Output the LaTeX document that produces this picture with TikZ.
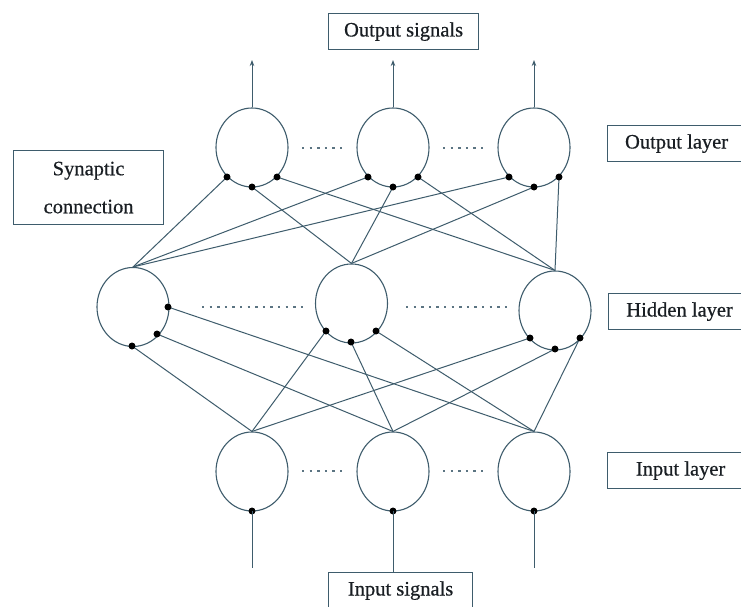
\documentclass[tikz,border=0pt]{standalone}
\usepackage{fontspec}
\setmainfont{Liberation Serif}
\newfontfamily\lblfont[FakeBold=0.5]{Liberation Serif}
\usetikzlibrary{shapes.geometric,arrows.meta}
\definecolor{lc}{RGB}{62,92,108}
\definecolor{tc}{RGB}{25,30,35}
\tikzset{
  neuron/.style={ellipse, draw=lc, line width=1.1pt, minimum width=72pt, minimum height=79pt, inner sep=0pt},
  syn/.style={circle, fill=black, minimum size=6.5pt, inner sep=0pt},
  conn/.style={draw=lc, line width=1.0pt},
  lbl/.style={draw=lc, line width=1.2pt, text=tc, font=\lblfont\fontsize{20.5}{38}\selectfont, inner sep=0pt, anchor=north west, align=center},
  dotsline/.style={draw=lc!85, line width=2.4pt, dash pattern=on 2.4pt off 5.2pt},
  sig/.style={conn, -{Stealth[length=6pt,width=4.5pt]}}
}
\begin{document}
\begin{tikzpicture}[x=1pt,y=-1pt]
\useasboundingbox (0,0) rectangle (741,607);
\clip (0,0) rectangle (741,607);
\fill[white] (0,0) rectangle (741,607);
% neurons
\node[neuron] (o1) at (252,147.5) {};
\node[neuron] (o2) at (393,147.5) {};
\node[neuron] (o3) at (534,147.5) {};
\node[neuron] (h1) at (133,307) {};
\node[neuron] (h2) at (351.5,303.5) {};
\node[neuron] (h3) at (555,310.5) {};
\node[neuron] (i1) at (252,471.5) {};
\node[neuron] (i2) at (393,471.5) {};
\node[neuron] (i3) at (534,471.5) {};
% synapse dots output layer
\node[syn] (o1a) at (227,177) {};
\node[syn] (o1b) at (252,187) {};
\node[syn] (o1c) at (277,177) {};
\node[syn] (o2a) at (368,177) {};
\node[syn] (o2b) at (393,187) {};
\node[syn] (o2c) at (418,177) {};
\node[syn] (o3a) at (509,177) {};
\node[syn] (o3b) at (534,187) {};
\node[syn] (o3c) at (559,177) {};
% synapse dots hidden layer
\node[syn] (h1a) at (132,346) {};
\node[syn] (h1b) at (157,334) {};
\node[syn] (h1c) at (168,307) {};
\node[syn] (h2a) at (326,331) {};
\node[syn] (h2b) at (351,342) {};
\node[syn] (h2c) at (376,331) {};
\node[syn] (h3a) at (530,338) {};
\node[syn] (h3b) at (555,349) {};
\node[syn] (h3c) at (580,338) {};
% input dots
\node[syn] (i1s) at (252,511) {};
\node[syn] (i2s) at (393,511) {};
\node[syn] (i3s) at (534,511) {};
% hidden -> output connections
\foreach \o in {1,2,3}{
  \draw[conn] (o\o a.center) -- (h1.north);
  \draw[conn] (o\o b.center) -- (h2.north);
  \draw[conn] (o\o c.center) -- (h3.north);
}
% input -> hidden connections
\foreach \h in {1,2,3}{
  \draw[conn] (h\h a.center) -- (i1.north);
  \draw[conn] (h\h b.center) -- (i2.north);
  \draw[conn] (h\h c.center) -- (i3.north);
}
% redraw dots on top
\foreach \n in {o1a,o1b,o1c,o2a,o2b,o2c,o3a,o3b,o3c,h1a,h1b,h1c,h2a,h2b,h2c,h3a,h3b,h3c,i1s,i2s,i3s}{
  \fill (\n) circle (3.4pt);
}
% output arrows
\coordinate (t1) at (252,60);
\coordinate (t2) at (393,60);
\coordinate (t3) at (534,60);
\draw[sig] (o1.north) -- (t1);
\draw[sig] (o2.north) -- (t2);
\draw[sig] (o3.north) -- (t3);
% input lines
\coordinate (b1) at (252,568);
\coordinate (b3) at (534,568);
\draw[conn] (i1s.center) -- (b1);
\draw[conn] (i3s.center) -- (b3);
% dotted ellipses
\draw[dotsline] (302,148) -- (347,148);
\draw[dotsline] (443,148) -- (488,148);
\draw[dotsline] (202,307) -- (303,307);
\draw[dotsline] (406,307) -- (507,307);
\draw[dotsline] (302,471) -- (347,471);
\draw[dotsline] (443,471) -- (488,471);
% labels
\node[lbl, minimum width=150pt, minimum height=36pt] (outsig) at (328,13) {Output signals};
\node[lbl, minimum width=150pt, minimum height=74pt] (synbox) at (13,150) {Synaptic\\connection};
\node[lbl, minimum width=138pt, minimum height=36pt] (outl) at (607,125) {Output layer};
\node[lbl, minimum width=142pt, minimum height=36pt] (hidl) at (608,293) {Hidden layer};
\node[lbl, minimum width=146pt, minimum height=36pt] (inl) at (607,452) {Input layer};
\node[lbl, minimum width=144pt, minimum height=36pt] (insig) at (328,572) {Input signals};
\draw[conn] (i2s.center) -- (insig.north -| i2s);
\end{tikzpicture}
\end{document}
